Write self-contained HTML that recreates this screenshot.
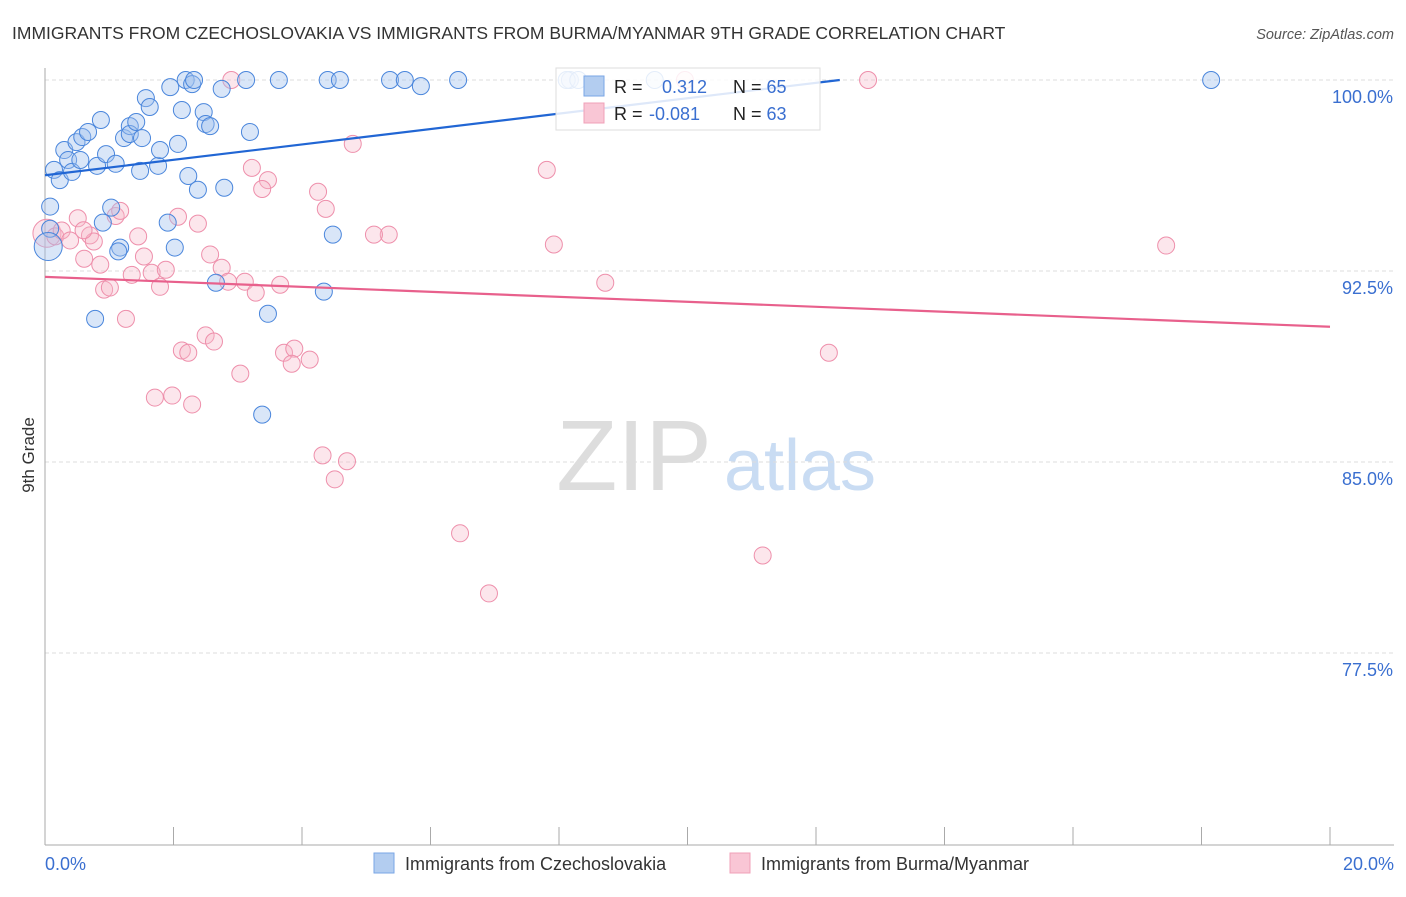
<!DOCTYPE html>
<html><head><meta charset="utf-8"><style>
body{margin:0;background:#fff;font-family:"Liberation Sans",sans-serif}
svg text{font-family:"Liberation Sans",sans-serif}
</style></head><body>
<svg width="1406" height="892">
<text x="12" y="39" font-size="17.5" fill="#333">IMMIGRANTS FROM CZECHOSLOVAKIA VS IMMIGRANTS FROM BURMA/MYANMAR 9TH GRADE CORRELATION CHART</text>
<text x="1394" y="39" font-size="14.5" fill="#555" font-style="italic" text-anchor="end">Source: ZipAtlas.com</text>
<text x="634" y="490" font-size="100" fill="#ddd" font-family="Liberation Serif" text-anchor="middle">ZIP</text>
<text x="800" y="490" font-size="72" fill="#c9dcf3" text-anchor="middle">atlas</text>
<g id="grid"></g>
<g id="axes"></g>
<g id="pts"></g>
<g id="lines"></g>
<text transform="translate(34,455) rotate(-90)" font-size="17" fill="#333" text-anchor="middle">9th Grade</text>
<text x="45" y="870" font-size="18" fill="#3a6fd0">0.0%</text>
<text x="1394" y="870" font-size="18" fill="#3a6fd0" text-anchor="end">20.0%</text>
<g>
<rect x="556" y="68" width="264" height="62" fill="#fff" fill-opacity="0.85" stroke="#ddd"/>
<rect x="584" y="76" width="20" height="20" fill="#b3cdf0" stroke="#7aa6e6"/>
<rect x="584" y="103" width="20" height="20" fill="#f9c6d5" stroke="#f0a0b8"/>
<text x="614" y="93" font-size="18" fill="#222">R = <tspan x="662" fill="#3a6fd0">0.312</tspan><tspan x="733" fill="#222">N = </tspan><tspan fill="#3a6fd0">65</tspan></text>
<text x="614" y="120" font-size="18" fill="#222">R = <tspan x="649" fill="#3a6fd0">-0.081</tspan><tspan x="733" fill="#222">N = </tspan><tspan fill="#3a6fd0">63</tspan></text>
</g>
<g>
<rect x="374" y="853" width="20" height="20" fill="#b3cdf0" stroke="#7aa6e6"/>
<text x="405" y="870" font-size="18" fill="#333">Immigrants from Czechoslovakia</text>
<rect x="730" y="853" width="20" height="20" fill="#f9c6d5" stroke="#f0a0b8"/>
<text x="761" y="870" font-size="18" fill="#333">Immigrants from Burma/Myanmar</text>
</g>
</svg>
<script>
const yTicks=[100,92.5,85,77.5];
const yTickLabels=["100.0%","92.5%","85.0%","77.5%"];
const xTicks=[0,2,4,6,8,10,12,14,16,18,20];
const czechX=[0.14,0.23,0.30,0.36,0.42,0.49,0.58,0.55,0.67,0.81,0.87,0.95,1.10,1.23,1.32,1.32,1.42,1.48,1.51,1.57,1.63,1.76,1.79,1.95,2.07,2.13,2.19,2.29,2.32,2.23,2.38,2.47,2.50,2.57,2.75,2.79,3.13,3.19,3.64,4.40,4.59,5.37,5.60,5.85,6.43,8.17,9.49,18.15,0.08,0.08,0.05,1.03,0.90,1.17,1.14,1.91,2.02,2.66,3.47,3.38,4.34,4.48,0.78,8.12,8.3];
const czechY=[96.47,96.07,97.25,96.86,96.39,97.56,97.76,96.86,97.96,96.63,98.43,97.09,96.71,97.72,98.19,97.88,98.35,96.43,97.72,99.29,98.94,96.63,97.25,99.72,97.49,98.82,100,99.84,100,96.23,95.69,98.74,98.27,98.19,99.65,95.77,100,97.96,100,100,100,100,100,99.76,100,100,100,100,95.03,94.16,93.46,94.99,94.40,93.42,93.27,94.40,93.42,92.04,90.82,86.86,91.69,93.93,90.62,100,100];
const burmaX=[2.90,9.96,12.81,3.22,3.47,3.38,4.25,4.37,4.79,7.81,7.92,17.45,8.72,5.35,12.20,5.12,0.03,0.16,0.26,0.39,0.51,0.70,0.76,0.61,0.86,0.92,1.01,1.10,1.17,1.26,1.35,1.45,1.54,1.66,1.79,1.88,2.07,2.38,2.57,2.75,2.85,3.11,3.28,3.66,2.50,2.63,2.13,2.23,3.72,3.88,3.84,4.12,3.04,1.71,1.98,2.29,4.32,4.51,4.70,6.46,6.91,11.17,0.6];
const burmaY=[100,100,100,96.55,96.07,95.72,95.61,94.94,97.49,96.47,93.54,93.50,92.04,93.93,89.29,93.93,93.98,93.86,94.09,93.70,94.57,93.90,93.66,92.98,92.75,91.77,91.85,94.66,94.86,90.62,92.35,93.86,93.07,92.43,91.88,92.55,94.63,94.36,93.15,92.63,92.08,92.08,91.65,91.96,89.97,89.73,89.38,89.29,89.29,89.45,88.86,89.02,88.47,87.53,87.61,87.26,85.26,84.32,85.03,82.20,79.84,81.33,94.1];
const czechTrend=[[0,96.26],[12.37,100]];
const burmaTrend=[[0,92.27],[20,90.31]];
const X0=45,X1=1330,Y100=80,YPX=191/7.5;
const sx=v=>X0+(v/20)*(X1-X0);
const sy=v=>Y100+(100-v)*YPX;
const NS="http://www.w3.org/2000/svg";
function mk(tag,attrs,parent){const e=document.createElementNS(NS,tag);for(const k in attrs)e.setAttribute(k,attrs[k]);document.getElementById(parent).appendChild(e);return e;}
yTicks.forEach((t,i)=>{
 const l=mk('line',{x1:X0,x2:1394,y1:sy(t),y2:sy(t),stroke:'#ddd','stroke-dasharray':'4,3'},'grid');
 
 
 const tx=mk('text',{x:1393,y:sy(t)+23,'font-size':18,fill:'#3a6fd0','text-anchor':'end'},'grid');
 tx.textContent=yTickLabels[i];
 
 
});
const ya=mk('line',{x1:X0,x2:X0,y1:68,y2:845,stroke:'#aaa'},'axes');


const xa=mk('line',{x1:X0,x2:1394,y1:845,y2:845,stroke:'#aaa'},'axes');


xTicks.forEach(t=>{
 const l=mk('line',{x1:sx(t),x2:sx(t),y1:827,y2:845,stroke:'#aaa'},'axes');
 
 
});
burmaX.forEach((v,i)=>{
 const big=i===16;
 const c=mk('circle',{cx:sx(v),cy:sy(burmaY[i]),r:big?14:8.5,fill:'#f7b6c9','fill-opacity':0.35,stroke:'#ee8fab','stroke-width':1},'pts');
 
 
});
czechX.forEach((v,i)=>{
 const big=i===50;
 const c=mk('circle',{cx:sx(v),cy:sy(czechY[i]),r:big?14:8.5,fill:'#9fc0ee','fill-opacity':0.4,stroke:'#4a86dc','stroke-width':1},'pts');
 
 
});
const tb=mk('line',{x1:sx(czechTrend[0][0]),y1:sy(czechTrend[0][1]),x2:sx(czechTrend[1][0]),y2:sy(czechTrend[1][1]),stroke:'#2166d4','stroke-width':2.2},'lines');


const tp=mk('line',{x1:sx(burmaTrend[0][0]),y1:sy(burmaTrend[0][1]),x2:sx(burmaTrend[1][0]),y2:sy(burmaTrend[1][1]),stroke:'#e8608c','stroke-width':2.2},'lines');


</script>
</body></html>
